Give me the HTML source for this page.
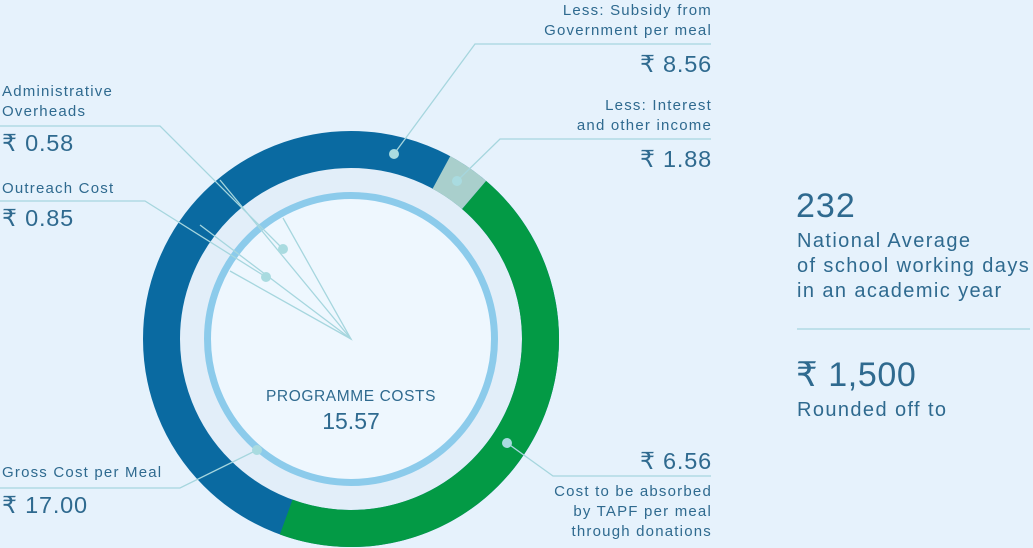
<!DOCTYPE html>
<html><head><meta charset="utf-8"><style>
html,body{margin:0;padding:0;background:#e6f2fc;}
svg{display:block}
text{font-family:"Liberation Sans",sans-serif;fill:#2f6a8f;}
.s{font-size:15px;letter-spacing:1.2px}
.b{font-size:23.5px;letter-spacing:0.8px}
.m{font-size:20px;letter-spacing:1.4px}
</style></head><body>
<svg width="1033" height="548" viewBox="0 0 1033 548" xmlns="http://www.w3.org/2000/svg">
<rect width="1033" height="548" fill="#e6f2fc"/>
<circle cx="351" cy="339" r="171" fill="#e2eef9"/>
<g fill="none" stroke-width="37">
<circle cx="351" cy="339" r="189.5" stroke="#0a6aa1"/>
<path d="M 474.07 194.90 A 189.5 189.5 0 0 1 286.19 517.07" stroke="#039a45"/>
<path d="M 441.43 172.44 A 189.5 189.5 0 0 1 474.07 194.90" stroke="#a9cfcc"/>
</g>
<circle cx="351" cy="339" r="143.5" fill="#eef7fe" stroke="#8ccbeb" stroke-width="7"/>
<g stroke="#a6d6de" stroke-width="1.3" fill="none">
<polyline points="0,126 160,126 283,249"/>
<polyline points="0,201 145,201 266,277"/>
<polyline points="283,218 351,339 230,271"/>
<polyline points="220,180 351,339"/>
<polyline points="200,225 351,339"/>
<polyline points="711,44 475,44 394,154"/>
<polyline points="711,139 500,139 457,181"/>
<polyline points="711,476 553,476 507,443"/>
<polyline points="0,488 180,488 257,450"/>
<line x1="797" y1="329" x2="1030" y2="329"/>
</g>
<g fill="#a9dbe0">
<circle cx="283" cy="249" r="5"/><circle cx="266" cy="277" r="5"/>
<circle cx="394" cy="154" r="5"/><circle cx="457" cy="181" r="5"/>
<circle cx="507" cy="443" r="5"/><circle cx="257" cy="450" r="5"/>
</g>
<text x="351" y="401" font-size="15.5" letter-spacing="0.6" text-anchor="middle">PROGRAMME COSTS</text>
<text x="351" y="429" font-size="23" text-anchor="middle">15.57</text>
<text class="s" x="2" y="96">Administrative</text>
<text class="s" x="2" y="116">Overheads</text>
<text class="b" x="2" y="151">₹ 0.58</text>
<text class="s" x="2" y="193">Outreach Cost</text>
<text class="b" x="2" y="226">₹ 0.85</text>
<text class="s" x="2" y="477">Gross Cost per Meal</text>
<text class="b" x="2" y="513">₹ 17.00</text>
<g text-anchor="end">
<text class="s" x="712" y="15">Less: Subsidy from</text>
<text class="s" x="712" y="35">Government per meal</text>
<text class="b" x="712" y="72">₹ 8.56</text>
<text class="s" x="712" y="110">Less: Interest</text>
<text class="s" x="712" y="130">and other income</text>
<text class="b" x="712" y="167">₹ 1.88</text>
<text class="b" x="712" y="469">₹ 6.56</text>
<text class="s" x="712" y="496">Cost to be absorbed</text>
<text class="s" x="712" y="516">by TAPF per meal</text>
<text class="s" x="712" y="536">through donations</text>
</g>
<text x="796" y="217" font-size="34" letter-spacing="1">232</text>
<text class="m" x="797" y="247">National Average</text>
<text class="m" x="797" y="272">of school working days</text>
<text class="m" x="797" y="297">in an academic year</text>
<text x="796" y="386" font-size="34" letter-spacing="0.6">₹ 1,500</text>
<text class="m" x="797" y="416">Rounded off to</text>
</svg>
</body></html>
